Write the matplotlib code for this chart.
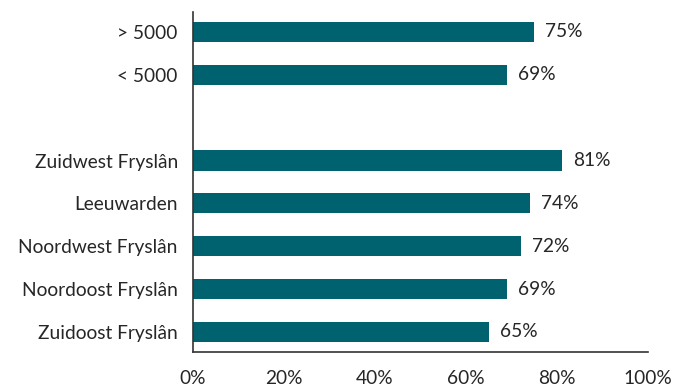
import matplotlib.pyplot as plt
from matplotlib.ticker import PercentFormatter

# Data (top to bottom); None marks the empty gap row
labels = ["> 5000", "< 5000", "", "Zuidwest Fryslân", "Leeuwarden",
          "Noordwest Fryslân", "Noordoost Fryslân", "Zuidoost Fryslân"]
values = [75, 69, None, 81, 74, 72, 69, 65]

BAR_COLOR = "#00626f"
TEXT_COLOR = "#262626"
FS = 13.8

plt.rcParams['font.family'] = ['Lato', 'DejaVu Sans']
plt.rcParams['font.size'] = FS

fig = plt.figure(figsize=(6.75, 3.88), dpi=100)
ax = fig.add_axes([0.286, 0.093, 0.674, 0.876])

pos = list(range(len(labels)))
for p, v in zip(pos, values):
    if v is None:
        continue
    ax.barh(p, v, height=0.47, color=BAR_COLOR)
    ax.annotate(f"{v}%", xy=(v, p), xytext=(8, 0), textcoords="offset points",
                va="center", ha="left", color=TEXT_COLOR, fontsize=FS)

ax.set_yticks(pos)
ax.set_yticklabels(labels, color=TEXT_COLOR)
ax.set_ylim(len(labels) - 1 + 0.465, -0.465)
ax.set_xlim(0, 100)
ax.set_xticks([0, 20, 40, 60, 80, 100])
ax.xaxis.set_major_formatter(PercentFormatter(decimals=0))
ax.tick_params(axis="both", length=0, colors=TEXT_COLOR, labelsize=FS)
ax.tick_params(axis="x", pad=13)
ax.tick_params(axis="y", pad=11)

for side in ["top", "right"]:
    ax.spines[side].set_visible(False)
for side in ["left", "bottom"]:
    ax.spines[side].set_color("#333333")
    ax.spines[side].set_linewidth(1.2)

fig.savefig("out.png", dpi=100)
